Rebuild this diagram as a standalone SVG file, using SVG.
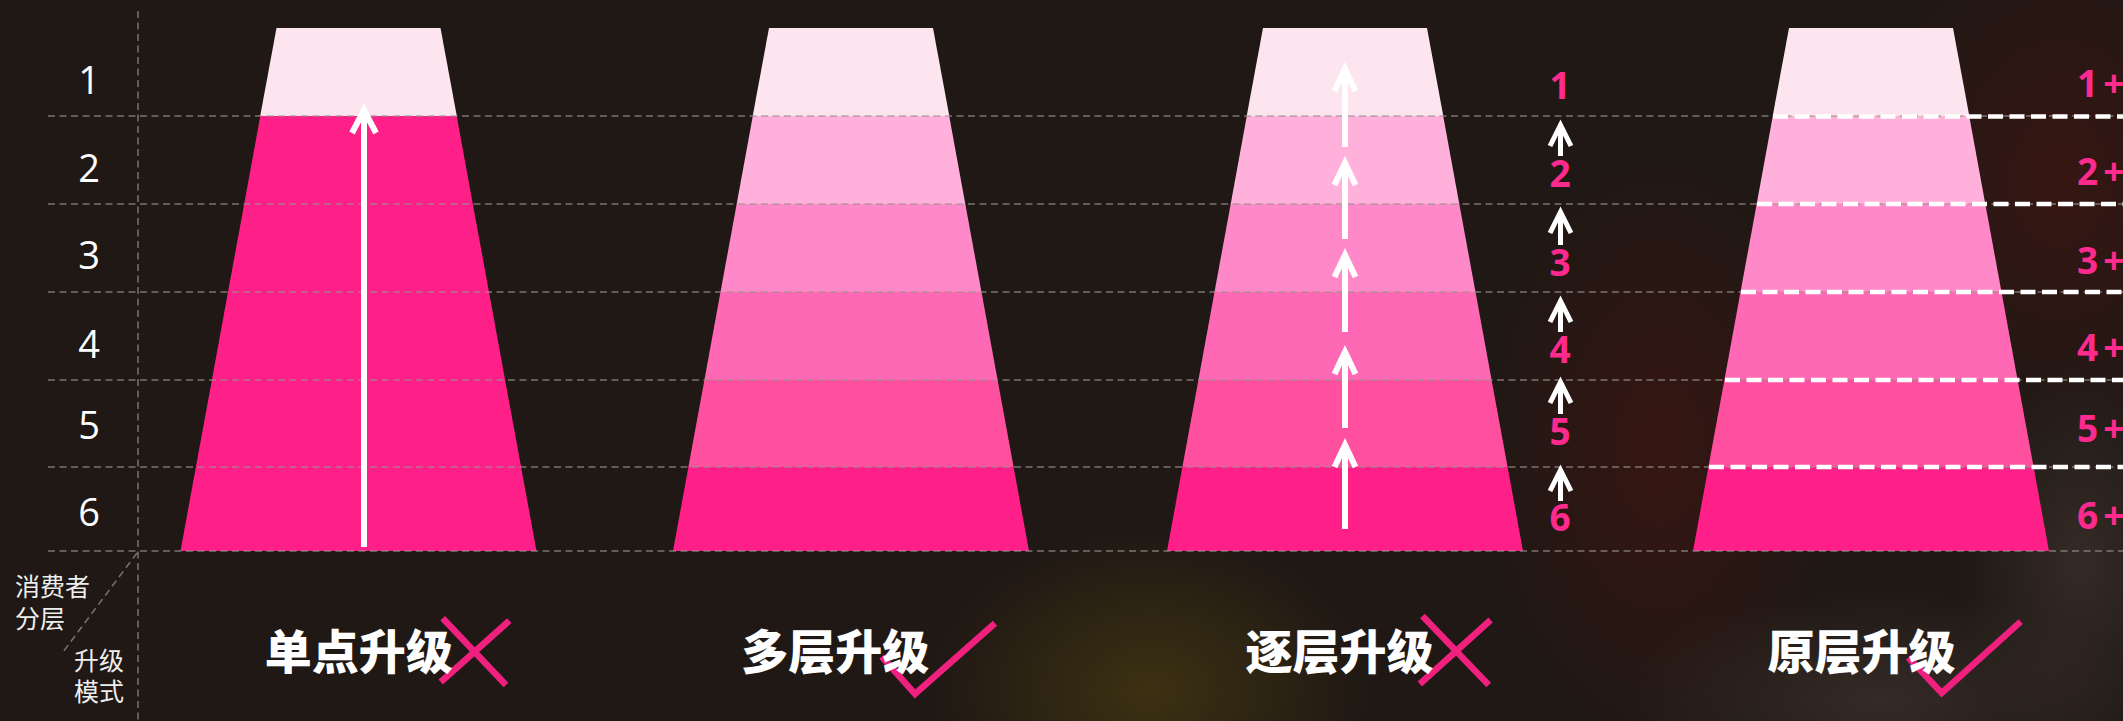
<svg xmlns="http://www.w3.org/2000/svg" width="2123" height="721" viewBox="0 0 2123 721">
<defs>
<radialGradient id="gY" cx="0.5" cy="0.5" r="0.5"><stop offset="0" stop-color="#5a4a10" stop-opacity="0.5"/><stop offset="1" stop-color="#5a4a10" stop-opacity="0"/></radialGradient>
<radialGradient id="gR" cx="0.5" cy="0.5" r="0.5"><stop offset="0" stop-color="#5a1210" stop-opacity="0.4"/><stop offset="1" stop-color="#5a1210" stop-opacity="0"/></radialGradient>
<radialGradient id="gG" cx="0.5" cy="0.5" r="0.5"><stop offset="0" stop-color="#4a3e38" stop-opacity="0.5"/><stop offset="1" stop-color="#4a3e38" stop-opacity="0"/></radialGradient>
<polygon id="b1" points="-82,28 82,28 98.4,116.5 -98.4,116.5"/>
<polygon id="b2" points="-98.2,116 98.2,116 114.4,204.5 -114.4,204.5"/>
<polygon id="b3" points="-114.3,204 114.3,204 130.6,292.5 -130.6,292.5"/>
<polygon id="b4" points="-130.5,292 130.5,292 146.7,380.5 -146.7,380.5"/>
<polygon id="b5" points="-146.6,380 146.6,380 162.7,467.5 -162.7,467.5"/>
<polygon id="b6" points="-162.6,467 162.6,467 178,551 -178,551"/>
</defs>
<style>
.c1{fill:#fce5ef}.c2{fill:#ffb1dc}.c3{fill:#ff88c8}.c4{fill:#ff68b5}.c5{fill:#ff4f9f}.c6{fill:#ff1f89}
.grid{stroke:#9a928c;stroke-opacity:0.75;stroke-width:1.5;stroke-dasharray:7 4.5;fill:none}
.wdash{stroke:#ffffff;stroke-width:4.5;stroke-dasharray:15 6.5;fill:none}
.arr{stroke:#ffffff;stroke-width:6;fill:none;stroke-linecap:butt;stroke-linejoin:miter}
.sarr{stroke:#ffffff;stroke-width:5;fill:none;stroke-linejoin:miter}
.mark{stroke:#f0207f;stroke-width:6.5;fill:none;stroke-linejoin:miter}
.num{font-family:"Open Sans","Noto Sans",sans-serif;font-size:38px;fill:#ffffff;text-anchor:middle}
.pnum{font-family:"Open Sans","Noto Sans",sans-serif;font-size:37px;font-weight:700;fill:#ff2a8d}
.plus{letter-spacing:5px}
.title{font-family:"Noto Sans CJK SC","Noto Sans",sans-serif;font-size:47px;font-weight:900;fill:#ffffff;text-anchor:middle}
.small{font-family:"Noto Sans CJK SC","Noto Sans",sans-serif;font-size:25px;fill:#eeeeee}
</style>
<rect x="0" y="0" width="2123" height="721" fill="#1f1814"/>
<ellipse cx="1150" cy="690" rx="220" ry="160" fill="url(#gY)"/>
<ellipse cx="1660" cy="450" rx="180" ry="300" fill="url(#gR)"/>
<ellipse cx="2060" cy="180" rx="200" ry="260" fill="url(#gR)"/>
<ellipse cx="1880" cy="700" rx="260" ry="110" fill="url(#gG)"/>
<ellipse cx="2080" cy="560" rx="120" ry="200" fill="url(#gG)"/>

<g id="trap1" transform="translate(358.5,0)">
<use href="#b1" class="c1"/><use href="#b2" class="c6"/><use href="#b3" class="c6"/><use href="#b4" class="c6"/><use href="#b5" class="c6"/><use href="#b6" class="c6"/>
</g>
<g id="trap2" transform="translate(851,0)">
<use href="#b1" class="c1"/><use href="#b2" class="c2"/><use href="#b3" class="c3"/><use href="#b4" class="c4"/><use href="#b5" class="c5"/><use href="#b6" class="c6"/>
</g>
<g id="trap3" transform="translate(1345,0)">
<use href="#b1" class="c1"/><use href="#b2" class="c2"/><use href="#b3" class="c3"/><use href="#b4" class="c4"/><use href="#b5" class="c5"/><use href="#b6" class="c6"/>
</g>
<g id="trap4" transform="translate(1871,0)">
<use href="#b1" class="c1"/><use href="#b2" class="c2"/><use href="#b3" class="c3"/><use href="#b4" class="c4"/><use href="#b5" class="c5"/><use href="#b6" class="c6"/>
</g>

<g id="grid">
<line class="grid" x1="138" y1="11" x2="138" y2="721"/>
<line class="grid" x1="48" y1="116" x2="2123" y2="116"/>
<line class="grid" x1="48" y1="204" x2="2123" y2="204"/>
<line class="grid" x1="48" y1="292" x2="2123" y2="292"/>
<line class="grid" x1="48" y1="380" x2="2123" y2="380"/>
<line class="grid" x1="48" y1="467" x2="2123" y2="467"/>
<line class="grid" x1="48" y1="551" x2="2123" y2="551"/>
<line class="grid" x1="137" y1="553" x2="63" y2="652"/>
</g>

<g id="row-labels">
<text class="num" x="89" y="94">1</text>
<text class="num" x="89" y="182">2</text>
<text class="num" x="89" y="269">3</text>
<text class="num" x="89" y="358">4</text>
<text class="num" x="89" y="439">5</text>
<text class="num" x="89" y="526">6</text>
</g>

<g id="axis-labels">
<text class="small" x="15" y="596">消费者</text>
<text class="small" x="15" y="628">分层</text>
<text class="small" x="74" y="670">升级</text>
<text class="small" x="74" y="701">模式</text>
</g>

<g id="connectors">
<path class="arr" d="M364,547 V112"/>
<path class="arr" d="M352,133 L364,110 L376,133"/>
<path class="arr" d="M1345,147 V71 M1334.5,91 L1345,69 L1355.5,91"/>
<path class="arr" d="M1345,239 V165 M1334.5,185 L1345,163 L1355.5,185"/>
<path class="arr" d="M1345,332 V257 M1334.5,277 L1345,255 L1355.5,277"/>
<path class="arr" d="M1345,428 V354 M1334.5,374 L1345,352 L1355.5,374"/>
<path class="arr" d="M1345,529 V447 M1334.5,467 L1345,445 L1355.5,467"/>
<path class="sarr" d="M1560.5,156 V127 M1550,146 L1560.5,125 L1571,146"/>
<path class="sarr" d="M1560.5,245 V214 M1550,233 L1560.5,212 L1571,233"/>
<path class="sarr" d="M1560.5,332 V303 M1550,322 L1560.5,301 L1571,322"/>
<path class="sarr" d="M1560.5,414 V384 M1550,403 L1560.5,382 L1571,403"/>
<path class="sarr" d="M1560.5,501 V472 M1550,491 L1560.5,470 L1571,491"/>
<line class="wdash" x1="1773" y1="116.5" x2="2123" y2="116.5"/>
<line class="wdash" x1="1757" y1="204" x2="2123" y2="204"/>
<line class="wdash" x1="1741" y1="292" x2="2123" y2="292"/>
<line class="wdash" x1="1725" y1="380" x2="2123" y2="380"/>
<line class="wdash" x1="1709" y1="467" x2="2123" y2="467"/>
</g>

<g id="step-labels">
<text class="pnum" x="1560" y="99" text-anchor="middle">1</text>
<text class="pnum" x="1560" y="187" text-anchor="middle">2</text>
<text class="pnum" x="1560" y="276" text-anchor="middle">3</text>
<text class="pnum" x="1560" y="363" text-anchor="middle">4</text>
<text class="pnum" x="1560" y="445" text-anchor="middle">5</text>
<text class="pnum" x="1560" y="531" text-anchor="middle">6</text>
</g>

<g id="plus-labels">
<text class="pnum plus" x="2077" y="97">1+</text>
<text class="pnum plus" x="2077" y="185">2+</text>
<text class="pnum plus" x="2077" y="274">3+</text>
<text class="pnum plus" x="2077" y="361">4+</text>
<text class="pnum plus" x="2077" y="442">5+</text>
<text class="pnum plus" x="2077" y="529">6+</text>
</g>

<g id="marks">
<path class="mark" d="M442.7,618.3 L506,685 M509.3,620.7 L440.7,682"/>
<path class="mark" d="M881.7,656.7 L915,694 L995,623.3"/>
<path class="mark" d="M1422.5,616 L1488.7,685 M1490.6,620 L1419.8,684"/>
<path class="mark" d="M1908.3,657.5 L1941.7,693 L2020.7,621.6"/>
</g>

<g id="titles">
<text class="title" x="358.8" y="669">单点升级</text>
<text class="title" x="835.3" y="669">多层升级</text>
<text class="title" x="1339.5" y="669">逐层升级</text>
<text class="title" x="1861.6" y="669">原层升级</text>
</g>
</svg>
